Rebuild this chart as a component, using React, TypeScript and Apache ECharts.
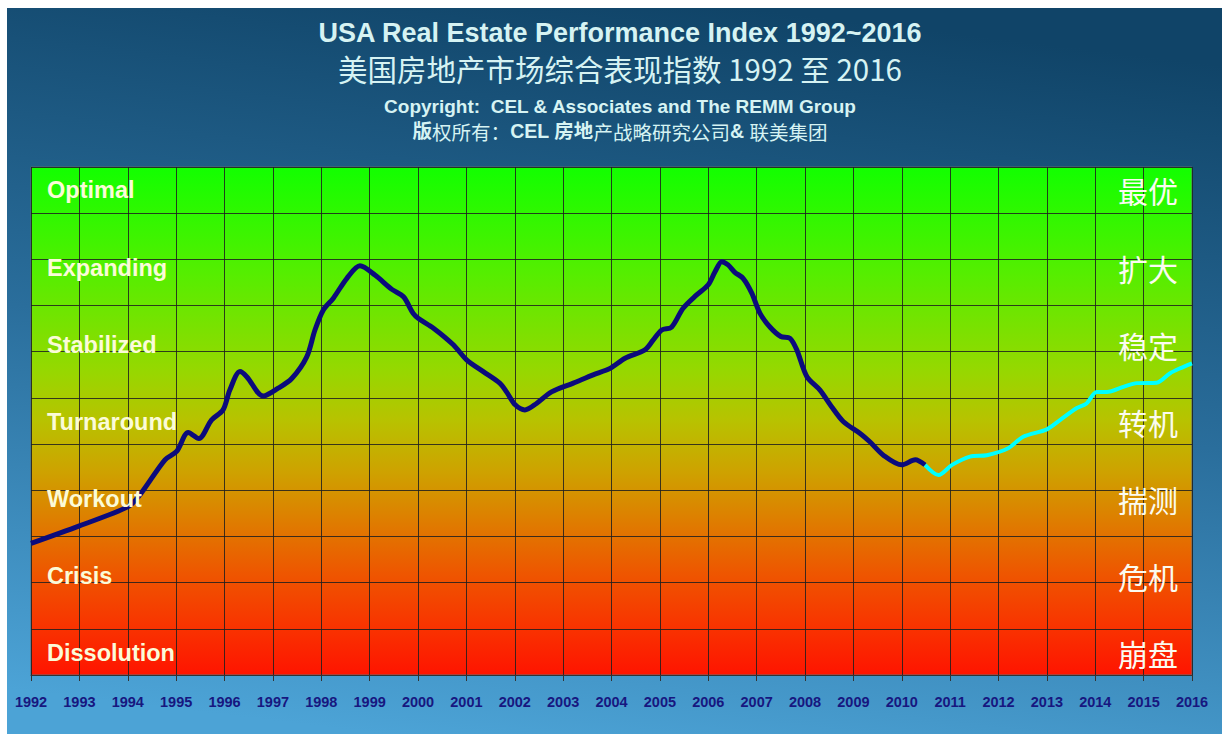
import React, { useEffect, useRef } from "react";
import * as echarts from "echarts";

const histYears = [
  1992.0, 1993.0, 1994.0, 1994.25, 1994.77, 1995.01, 1995.25, 1995.47, 1995.73, 1995.97,
  1996.11, 1996.32, 1996.46, 1996.8, 1997.11, 1997.39, 1997.7, 1997.87, 1998.04, 1998.25,
  1998.53, 1998.8, 1999.11, 1999.46, 1999.7, 1999.9, 2000.01, 2000.32, 2000.73, 2001.01,
  2001.35, 2001.69, 2001.83, 2002.01, 2002.21, 2002.45, 2002.76, 2003.21, 2003.62, 2003.97,
  2004.28, 2004.69, 2004.86, 2005.04, 2005.24, 2005.48, 2005.76, 2006.0, 2006.14, 2006.28,
  2006.41, 2006.55, 2006.72, 2006.9, 2007.07, 2007.28, 2007.5, 2007.69, 2007.83, 2008.04,
  2008.31, 2008.55, 2008.79, 2009.14, 2009.34, 2009.62, 2010.0, 2010.28, 2010.48,
];
const histValues = [
  2.85, 3.23, 3.64, 3.9, 4.66, 4.84, 5.25, 5.12, 5.52, 5.74,
  6.17, 6.57, 6.46, 6.04, 6.21, 6.42, 6.89, 7.47, 7.9, 8.16,
  8.59, 8.86, 8.66, 8.35, 8.19, 7.83, 7.72, 7.51, 7.15, 6.82,
  6.57, 6.32, 6.13, 5.85, 5.74, 5.88, 6.13, 6.32, 6.5, 6.64,
  6.86, 7.04, 7.25, 7.47, 7.53, 7.94, 8.23, 8.45, 8.73, 8.95,
  8.88, 8.72, 8.59, 8.27, 7.83, 7.53, 7.33, 7.29, 7.04, 6.46,
  6.17, 5.81, 5.49, 5.23, 5.05, 4.76, 4.55, 4.66, 4.55,
];
const foreYears = [
  2010.48, 2010.76, 2011.04, 2011.41, 2011.76, 2012.2, 2012.51, 2013.0, 2013.27, 2013.62,
  2013.82, 2014.03, 2014.24, 2014.58, 2014.86, 2015.27, 2015.54, 2015.75, 2016.0,
];
const foreValues = [
  4.55, 4.33, 4.55, 4.73, 4.76, 4.91, 5.16, 5.32, 5.52, 5.78,
  5.88, 6.13, 6.13, 6.24, 6.32, 6.33, 6.53, 6.64, 6.75,
];

const stageLabelsEn = ["Optimal", "Expanding", "Stabilized", "Turnaround", "Workout", "Crisis", "Dissolution"];
const stageLabelsZh = ["最优", "扩大", "稳定", "转机", "揣测", "危机", "崩盘"];

const titleLine1 = "USA Real Estate Performance Index 1992~2016";
const titleLine2 = "美国房地产市场综合表现指数 1992 至 2016";
const titleLine3 = "Copyright:  CEL & Associates and The REMM Group";

const SANS = "'Liberation Sans', Arial, Helvetica, sans-serif";
const CJK = "'Noto Sans CJK SC', 'Noto Sans', sans-serif";

export default function App() {
  const ref = useRef<HTMLDivElement>(null);
  useEffect(() => {
    if (!ref.current) return;
    document.documentElement.style.overflow = "hidden";
    document.body.style.overflow = "hidden";
    const chart = echarts.init(ref.current, undefined, { renderer: "svg" });
    const hist = histYears.map((y, i) => [y, histValues[i]]);
    const fore = foreYears.map((y, i) => [y, foreValues[i]]);
    const titleColor = "#d6f3f3";
    const graphics: any[] = [
      {
        type: "text",
        style: { text: titleLine1, x: 613, y: 25, textAlign: "center", textVerticalAlign: "middle", fontSize: 27, fontWeight: "bold", fontFamily: SANS, fill: titleColor },
      },
      {
        type: "text",
        style: { text: titleLine2, x: 613, y: 60, textAlign: "center", textVerticalAlign: "middle", fontSize: 29.5, fontFamily: CJK, fill: titleColor },
      },
      {
        type: "text",
        style: { text: titleLine3, x: 613, y: 98, textAlign: "center", textVerticalAlign: "middle", fontSize: 19, fontWeight: "bold", fontFamily: SANS, fill: titleColor },
      },
      {
        type: "text",
        style: {
          text: "{b|版}{r|权所有：}{b|CEL 房地}{r|产战略研究公司}{b|& }{r|联美集团}",
          x: 613,
          y: 123,
          textAlign: "center",
          textVerticalAlign: "middle",
          fill: titleColor,
          rich: {
            b: { fontSize: 19.5, fontWeight: "bold", fontFamily: SANS + ", " + CJK, fill: titleColor },
            r: { fontSize: 19.5, fontFamily: CJK, fill: titleColor },
          },
        },
      },
    ];
    const labelY = [182, 260, 337, 414, 491, 568, 645];
    stageLabelsEn.forEach((t, i) => {
      graphics.push({
        type: "text",
        z: 10,
        style: { text: t, x: 40, y: labelY[i], textAlign: "left", textVerticalAlign: "middle", fontSize: 23.5, fontWeight: "bold", fontFamily: SANS, fill: "#fbfbd8" },
      });
    });
    stageLabelsZh.forEach((t, i) => {
      graphics.push({
        type: "text",
        z: 10,
        style: { text: t, x: 1171, y: labelY[i], textAlign: "right", textVerticalAlign: "middle", fontSize: 30, fontFamily: CJK, fill: "#fbfbf0" },
      });
    });

    chart.setOption({
      animation: false,
      backgroundColor: new echarts.graphic.LinearGradient(0.6, 0, 0.4, 1, [
        { offset: 0, color: "#104468" },
        { offset: 0.5, color: "#2a6e9c" },
        { offset: 1, color: "#4ca3d6" },
      ]),
      grid: {
        left: 24,
        right: 45,
        top: 159,
        bottom: 73,
        show: true,
        borderColor: "#5a6a70",
        borderWidth: 1,
        backgroundColor: new echarts.graphic.LinearGradient(0, 0, 0, 1, [
          { offset: 0, color: "#12ff00" },
          { offset: 0.2, color: "#52ef00" },
          { offset: 0.4, color: "#96d800" },
          { offset: 0.5, color: "#b8c200" },
          { offset: 0.6, color: "#cea200" },
          { offset: 0.7, color: "#df7c00" },
          { offset: 0.8, color: "#ee5600" },
          { offset: 0.9, color: "#f83500" },
          { offset: 1, color: "#ff1400" },
        ]),
      },
      xAxis: {
        type: "value",
        min: 1992,
        max: 2016,
        interval: 1,
        axisLine: { show: true, lineStyle: { color: "#333", width: 1 } },
        axisTick: { show: true, length: 6, lineStyle: { color: "#333" } },
        axisLabel: {
          margin: 19,
          color: "#17177f",
          fontSize: 14.5,
          fontWeight: "bold",
          fontFamily: SANS,
          formatter: (v: number) => String(v),
        },
        splitLine: { show: true, lineStyle: { color: "rgba(30,30,30,0.85)", width: 1 } },
      },
      yAxis: {
        type: "value",
        min: 0,
        max: 11,
        interval: 1,
        axisLine: { show: false },
        axisTick: { show: false },
        axisLabel: { show: false },
        splitLine: { show: true, lineStyle: { color: "rgba(30,30,30,0.85)", width: 1 } },
      },
      graphic: graphics,
      series: [
        {
          type: "line",
          data: hist,
          symbol: "none",
          smooth: 0.3,
          lineStyle: { color: "#0b0b7c", width: 5 },
          z: 5,
        },
        {
          type: "line",
          data: fore,
          symbol: "none",
          smooth: 0.3,
          lineStyle: { color: "#00ffff", width: 4 },
          z: 4,
        },
      ],
    });
    return () => chart.dispose();
  }, []);
  return <div ref={ref} style={{ position: "absolute", left: 7, top: 8, width: 1230, height: 740 }} />;
}
